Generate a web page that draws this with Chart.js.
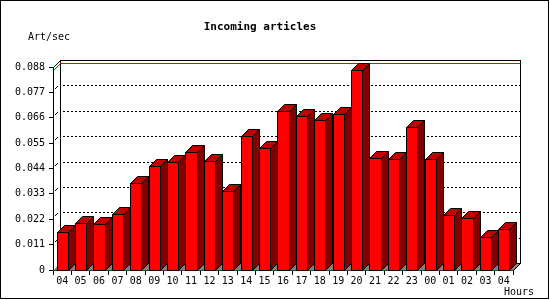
<!DOCTYPE html>
<html>
<head>
<meta charset="utf-8">
<title>Incoming articles</title>
<script src="https://cdn.jsdelivr.net/npm/chart.js@4/dist/chart.umd.min.js"></script>
<style>
  html, body { margin: 0; padding: 0; background: #fff; }
  #wrap { width: 550px; height: 300px; }
</style>
</head>
<body>
<div id="wrap"><canvas id="myChart" width="550" height="300"></canvas></div>
<script>
// data
const hours = ['04', '05', '06', '07', '08', '09', '10', '11', '12', '13', '14', '15', '16',
               '17', '18', '19', '20', '21', '22', '23', '00', '01', '02', '03', '04'];
const artPerSec = [0.0164, 0.0203, 0.0200, 0.0242, 0.0377, 0.0451, 0.0468, 0.0512, 0.0472,
                   0.0342, 0.0581, 0.0529, 0.0690, 0.0668, 0.0651, 0.0677, 0.0865, 0.0485,
                   0.0481, 0.0620, 0.0481, 0.0238, 0.0225, 0.0142, 0.0177];
const yTicks = [0, 0.011, 0.022, 0.033, 0.044, 0.055, 0.066, 0.077, 0.088];
const chartTitle = 'Incoming articles';
const yUnit = 'Art/sec';
const xUnit = 'Hours';

const DEPTH = 7;
const MONO = '"DejaVu Sans Mono", "Liberation Mono", monospace';

const px = v => Math.round(v) + 0.5;

const box3d = {
  id: 'box3d',
  beforeDraw(chart) {
    const ctx = chart.ctx;
    ctx.save();
    ctx.fillStyle = '#fff';
    ctx.fillRect(0, 0, chart.width, chart.height);
    ctx.restore();
  },
  beforeDatasetsDraw(chart) {
    const { ctx, chartArea: a, scales: { y } } = chart;
    const d = DEPTH;
    const L = Math.round(a.left), R = Math.round(a.right);
    const T = Math.round(a.top), B = Math.round(a.bottom);
    ctx.save();
    ctx.lineWidth = 1;
    ctx.strokeStyle = '#000';

    // floor
    ctx.fillStyle = '#808080';
    ctx.beginPath();
    ctx.moveTo(L, B + 0.5);
    ctx.lineTo(R, B + 0.5);
    ctx.lineTo(R + d, B - d + 0.5);
    ctx.lineTo(L + d, B - d + 0.5);
    ctx.closePath();
    ctx.fill();

    // back wall
    ctx.strokeRect(L + d + 0.5, T - d + 0.5, R - L, B - T);
    // corner edges
    ctx.beginPath();
    ctx.moveTo(L + 0.5, T + 0.5);
    ctx.lineTo(L + d + 0.5, T - d + 0.5);
    ctx.moveTo(R + 0.5, B + 0.5);
    ctx.lineTo(R + d + 0.5, B - d + 0.5);
    ctx.stroke();

    // dotted grid on the back wall + little marks on the side wall
    yTicks.forEach(v => {
      if (v === 0 || v === yTicks[yTicks.length - 1]) return;
      const ty = Math.round(y.getPixelForValue(v));
      ctx.setLineDash([2, 2]);
      ctx.beginPath();
      ctx.moveTo(L + d + 3, ty - d + 0.5);
      ctx.lineTo(R + d, ty - d + 0.5);
      ctx.stroke();
      ctx.setLineDash([]);
      ctx.beginPath();
      ctx.moveTo(L + 2, ty - 3);
      ctx.lineTo(L + 5, ty - 6);
      ctx.stroke();
    });

    // max line
    const maxY = Math.round(y.getPixelForValue(Math.max(...artPerSec)));
    ctx.strokeStyle = '#ff0000';
    ctx.beginPath();
    ctx.moveTo(L + 1, maxY);
    ctx.lineTo(L + d + 0.5, maxY - d + 0.5);
    ctx.lineTo(R + d, maxY - d + 0.5);
    ctx.stroke();
    ctx.restore();
  },
  beforeDatasetDraw() {
    return false; // bars are drawn below with their 3D faces
  },
  afterDatasetsDraw(chart) {
    const ctx = chart.ctx;
    const d = DEPTH;
    const meta = chart.getDatasetMeta(0);
    ctx.save();
    ctx.lineWidth = 1;
    ctx.strokeStyle = '#000';
    meta.data.forEach(bar => {
      const p = bar.getProps(['x', 'y', 'base', 'width'], true);
      const l = px(p.x - p.width / 2), r = px(p.x + p.width / 2);
      const t = px(p.y), b = px(p.base);
      // front
      ctx.fillStyle = '#ff0000';
      ctx.fillRect(l, t, r - l, b - t);
      ctx.strokeRect(l, t, r - l, b - t);
      // top
      ctx.fillStyle = '#c00000';
      ctx.beginPath();
      ctx.moveTo(l, t);
      ctx.lineTo(l + d, t - d);
      ctx.lineTo(r + d, t - d);
      ctx.lineTo(r, t);
      ctx.closePath();
      ctx.fill();
      ctx.stroke();
      // side
      ctx.fillStyle = '#800000';
      ctx.beginPath();
      ctx.moveTo(r, t);
      ctx.lineTo(r + d, t - d);
      ctx.lineTo(r + d, b - d);
      ctx.lineTo(r, b);
      ctx.closePath();
      ctx.fill();
      ctx.stroke();
    });
    ctx.restore();
  },
  afterDraw(chart) {
    const ctx = chart.ctx;
    ctx.save();
    ctx.fillStyle = '#000';
    ctx.textBaseline = 'middle';
    ctx.font = 'bold 11px ' + MONO;
    ctx.textAlign = 'center';
    ctx.fillText(chartTitle, 260, 27);
    ctx.font = '10px ' + MONO;
    ctx.textAlign = 'left';
    ctx.fillText(yUnit, 28, 37);
    ctx.fillText(xUnit, 504, 292);
    // frame
    ctx.strokeStyle = '#000';
    ctx.lineWidth = 1;
    ctx.strokeRect(0.5, 0.5, 548, 298);
    ctx.restore();
  }
};

new Chart(document.getElementById('myChart'), {
  type: 'bar',
  data: {
    labels: hours,
    datasets: [{
      label: yUnit,
      data: artPerSec,
      backgroundColor: '#ff0000',
      borderColor: '#000',
      borderWidth: 1,
      barPercentage: 0.6,
      categoryPercentage: 1
    }]
  },
  options: {
    responsive: false,
    animation: false,
    devicePixelRatio: 1,
    layout: { padding: { top: 67, right: 37, left: 0, bottom: 0 } },
    plugins: {
      legend: { display: false },
      tooltip: { enabled: false }
    },
    scales: {
      x: {
        afterFit: s => { s.height = 30; },
        grid: { display: true, drawOnChartArea: false, drawTicks: true, tickLength: 5, color: '#000', offset: true },
        border: { display: true, color: '#000' },
        ticks: { color: '#000', font: { family: MONO, size: 10 }, autoSkip: false, maxRotation: 0, padding: 0 }
      },
      y: {
        min: 0,
        max: 0.088,
        afterFit: s => { s.width = 53; },
        afterBuildTicks: s => { s.ticks = yTicks.map(v => ({ value: v })); },
        grid: { display: true, drawOnChartArea: false, drawTicks: true, tickLength: 4, color: '#000' },
        border: { display: true, color: '#000' },
        ticks: {
          color: '#000',
          font: { family: MONO, size: 10 },
          padding: 4,
          callback: v => v === 0 ? '0' : v.toFixed(3)
        }
      }
    }
  },
  plugins: [box3d]
});
</script>
</body>
</html>
